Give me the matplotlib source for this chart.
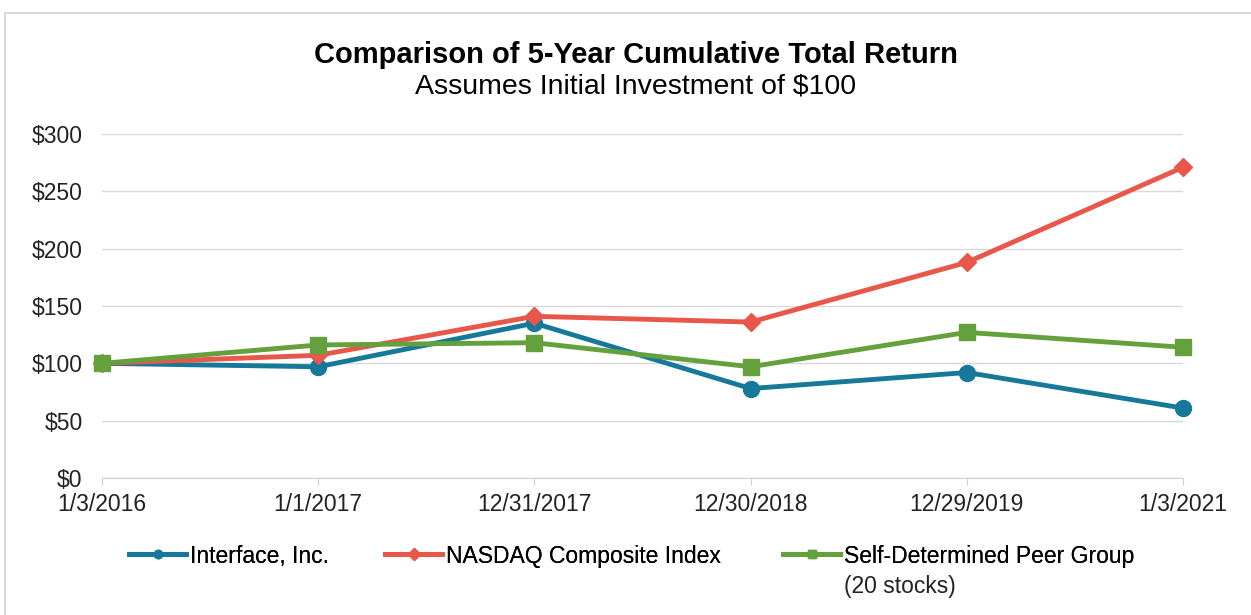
import numpy as np
import matplotlib.pyplot as plt
from matplotlib.patches import Rectangle
from matplotlib.lines import Line2D
from matplotlib.ticker import FuncFormatter

plt.rcParams['font.family'] = ['Liberation Sans', 'DejaVu Sans']

# data
dates = ['1/3/2016', '1/1/2017', '12/31/2017', '12/30/2018', '12/29/2019', '1/3/2021']
interface = [100, 97, 135, 78, 92, 61]
nasdaq = [100, 107, 141, 136, 188, 271]
peer = [100, 116, 118, 97, 127, 114]

labels = ['Interface, Inc.', 'NASDAQ Composite Index', 'Self-Determined Peer Group']
colors = ['#17799a', '#e8574a', '#64a03c']
markers = ['o', 'D', 's']
msizes = [11.5, 9, 12]
legend_x = [129, 385, 783]  # left edge of each legend entry, px


def main():
    fig = plt.figure(figsize=(12.51, 6.15), dpi=100)

    # light frame around the chart area
    fig.patches.append(Rectangle((5 / 1251, -0.1), 1.1, 1 - 13 / 615 + 0.1,
                                 transform=fig.transFigure, fill=False,
                                 edgecolor='#d9d9d9', linewidth=1.5))

    ax = fig.add_axes([102 / 1251, 1 - 478 / 615, (1183 - 102) / 1251, (478 - 134) / 615])
    x = np.arange(len(dates))

    for vals, lab, col, mk, ms in zip([interface, nasdaq, peer], labels, colors, markers, msizes):
        ax.plot(x, vals, color=col, marker=mk, markersize=ms, linewidth=3.5,
                label=lab, clip_on=False, zorder=3)

    ax.set_xlim(0, len(dates) - 1)
    ax.set_ylim(0, 300)
    ax.set_yticks(np.arange(0, 301, 50))
    ax.yaxis.set_major_formatter(FuncFormatter(lambda v, p: f'${v:.0f}'))
    ax.set_xticks(x)
    ax.set_xticklabels(dates)
    ax.tick_params(axis='y', length=0, labelsize=16.5, pad=14, labelcolor='#222222')
    ax.tick_params(axis='x', length=5, color='#d0d0d0', labelsize=16.5, pad=6,
                   labelcolor='#222222')
    ax.grid(axis='y', color='#d9d9d9', linewidth=1)
    for s in ['top', 'right', 'left']:
        ax.spines[s].set_visible(False)
    ax.spines['bottom'].set_color('#d0d0d0')
    ax.set_axisbelow(True)

    fig.text(0.508, 1 - 55 / 615, 'Comparison of 5-Year Cumulative Total Return',
             ha='center', va='center', fontsize=21, fontweight='bold')
    fig.text(0.508, 1 - 87 / 615, 'Assumes Initial Investment of $100',
             ha='center', va='center', fontsize=20.5)

    # one legend per entry so each sits where the reference has it
    for lab, col, mk, lx in zip(labels, colors, markers, legend_x):
        h = Line2D([], [], color=col, marker=mk, markersize=6, linewidth=3.5)
        leg = fig.legend(handles=[h], labels=[lab], loc='center left',
                         bbox_to_anchor=(lx / 1251, 1 - 556 / 615), frameon=False,
                         fontsize=16.5, handlelength=2.5, handletextpad=0.15,
                         borderpad=0, borderaxespad=0)
        fig.add_artist(leg)
    fig.text(844 / 1251, 1 - 586 / 615, '(20 stocks)', ha='left', va='center',
             fontsize=16.5, color='#222222')

    fig.savefig('out.png', dpi=100)


if __name__ == "__main__":
    main()
